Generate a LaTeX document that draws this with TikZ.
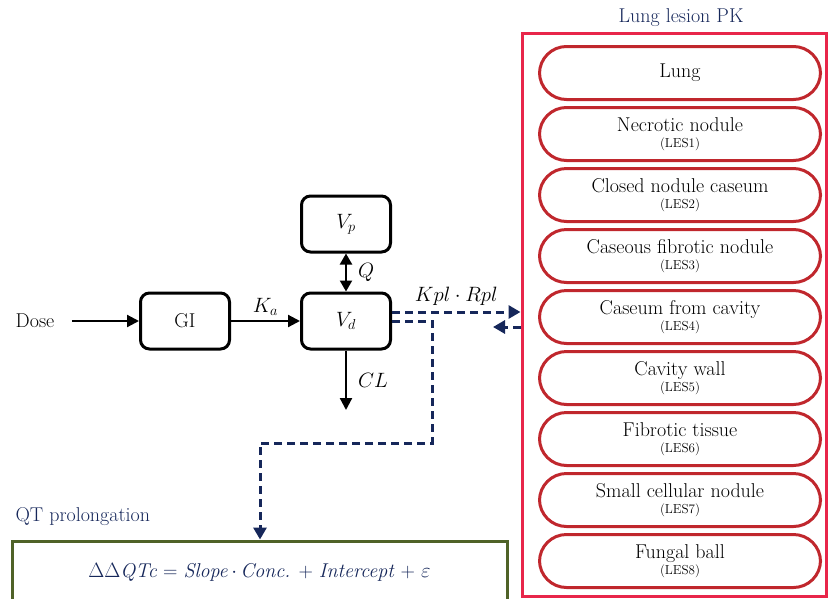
\documentclass[tikz,border=0pt]{standalone}
\usetikzlibrary{arrows.meta,positioning,calc}
\definecolor{navy}{HTML}{16275A}
\definecolor{lesred}{HTML}{E8264A}
\definecolor{pillred}{HTML}{C0272D}
\definecolor{qtgreen}{HTML}{4F6228}

\begin{document}
\begin{tikzpicture}[x=1pt, y=-1pt,
  font=\fontsize{20}{22}\selectfont,
  box/.style={draw=black, line width=3pt, rounded corners=9pt, minimum width=89pt, minimum height=56pt, fill=white},
  pill/.style={draw=pillred, line width=3pt, rounded corners=27pt, minimum width=281pt, minimum height=53pt, align=center, text=black},
  lab/.style={font=\fontsize{20}{22}\selectfont, inner sep=1pt},
  flow/.style={line width=2.2pt, -{Triangle[length=12pt,width=12pt]}},
  twoway/.style={line width=2.2pt, {Triangle[length=11pt,width=12pt]}-{Triangle[length=11pt,width=12pt]}},
  dsh/.style={navy, line width=3pt, dash pattern=on 8pt off 5pt},
  tip/.style={-{Triangle[length=12pt,width=13pt]}},
]
\useasboundingbox (0,0) rectangle (828,598);
\clip (0,0) rectangle (828,598);

% ---------- PK model ----------
\node (dose) at (35,321) {Dose};
\node[box] (gi) at (185,321) {GI};
\node[box] (vd) at (346,321) {$V_d$};
\node[box] (vp) at (346,224) {$V_p$};
\coordinate (clend) at (346,410);

\draw[flow, shorten <=14pt] (dose.east) -- (gi.west);
\draw[flow] (gi.east) -- (vd.west) node[lab, midway, above=3pt] (ka) {$K_a$};
\draw[twoway] (vp.south) -- (vd.north) node[lab, midway, right=10pt] (q) {$Q$};
\draw[flow] (vd.south) -- (clend) node[lab, midway, right=10pt] (cl) {$CL$};

% ---------- lung lesion PK ----------
\node[draw=lesred, line width=3pt, minimum width=304pt, minimum height=563pt] (lesion) at (674,314.5) {};
\node[navy, font=\fontsize{20}{22}\selectfont] (lestitle) at (681,18) {Lung lesion PK};

\node[pill] (lung) at (680,73) {Lung};
\foreach \i/\t in {1/Necrotic nodule,2/Closed nodule caseum,3/Caseous fibrotic nodule,4/Caseum from cavity,5/Cavity wall,6/Fibrotic tissue,7/Small cellular nodule,8/Fungal ball}{
  \node[pill] (les\i) at (680,{73+61*\i}) {\t\\[-6pt]{\fontsize{13}{14}\selectfont(LES\i)}};
}

% exchange plasma <-> lesion
\coordinate (kout) at ([yshift=9pt]vd.east);
\coordinate (kback) at (493,327);
\draw[dsh, tip] (kout) -- (kout -| lesion.west) node[lab, text=black, midway, above=4pt] (kpl) {$Kpl\cdot Rpl$};
\draw[dsh, tip] (kback -| lesion.west) -- (kback);

% ---------- QT prolongation ----------
\node[navy, anchor=west, font=\fontsize{20}{22}\selectfont] (qtlab) at (12,517) {QT prolongation};
\node[draw=qtgreen, line width=3pt, minimum width=495pt, minimum height=62pt, text=navy, font=\fontsize{20}{22}\selectfont] (qt) at (259.5,572)
  {$\Delta\Delta$\textit{QTc} = \textit{Slope}$\,\cdot\,$\textit{Conc.} + \textit{Intercept} + $\varepsilon$};

\coordinate (bend) at (432,443);
\coordinate (drop) at (260,443);
\draw[dsh, tip] (vd.east) -| (bend) -- (drop) -- (drop |- qt.north);
\end{tikzpicture}
\end{document}
